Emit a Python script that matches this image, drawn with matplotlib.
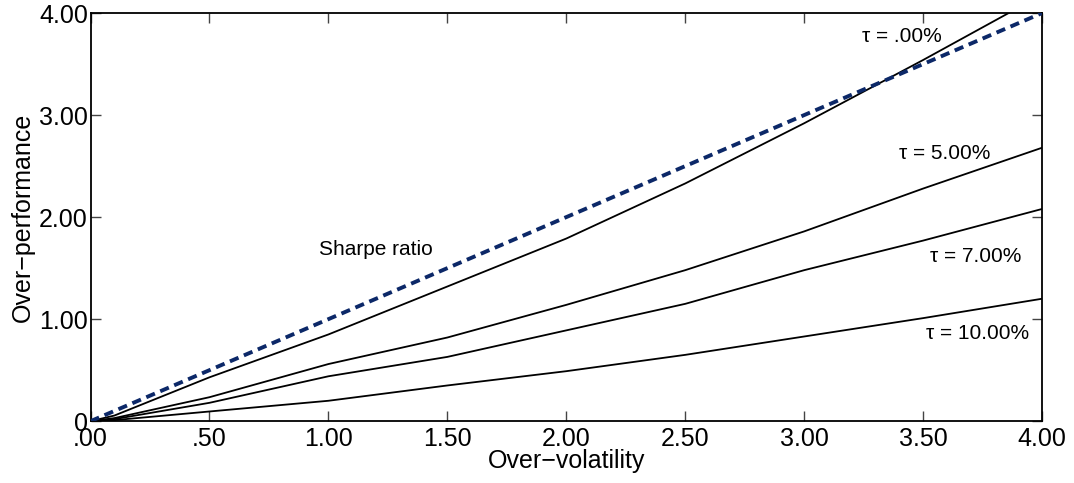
import matplotlib

matplotlib.use("Agg")
import matplotlib.pyplot as plt
from matplotlib.ticker import FixedLocator, FixedFormatter

# over-volatility sample points
vol = [0.0, 0.1, 0.5, 1.0, 1.5, 2.0, 2.5, 3.0, 3.5, 4.0]

# over-performance for each tracking-error level
tau_00 = [0.0, 0.055, 0.43, 0.85, 1.32, 1.79, 2.33, 2.92, 3.54, 4.18]
tau_05 = [0.0, 0.03, 0.235, 0.56, 0.82, 1.14, 1.48, 1.86, 2.28, 2.68]
tau_07 = [0.0, 0.02, 0.18, 0.44, 0.63, 0.89, 1.15, 1.48, 1.77, 2.08]
tau_10 = [0.0, 0.01, 0.095, 0.20, 0.35, 0.49, 0.65, 0.83, 1.01, 1.20]
sharpe = [0.0, 4.0]
sharpe_x = [0.0, 4.0]

curves = [
    (tau_00, "\u03c4 = .00%", 3.41, 3.77),
    (tau_05, "\u03c4 = 5.00%", 3.59, 2.62),
    (tau_07, "\u03c4 = 7.00%", 3.72, 1.61),
    (tau_10, "\u03c4 = 10.00%", 3.73, 0.86),
]

x_ticks = [0, 0.5, 1.0, 1.5, 2.0, 2.5, 3.0, 3.5, 4.0]
x_labels = [".00", ".50", "1.00", "1.50", "2.00", "2.50", "3.00", "3.50", "4.00"]
y_ticks = [0, 1, 2, 3, 4]
y_labels = ["0", "1.00", "2.00", "3.00", "4.00"]

NAVY = "#0c2868"

plt.rcParams["font.family"] = ["Liberation Sans", "DejaVu Sans"]

fig = plt.figure(figsize=(10.74, 4.83), dpi=100)
ax = fig.add_axes([0.0843, 0.128, 0.886, 0.845])

ax.plot(sharpe_x, sharpe, color=NAVY, linewidth=2.8, dashes=(2.4, 1.5),
        dash_capstyle="butt", zorder=3)
for ys, label, tx, ty in curves:
    ax.plot(vol, ys, color="black", linewidth=1.3, zorder=2)
    ax.text(tx, ty, label, fontsize=15, ha="center", va="center")

ax.text(1.2, 1.68, "Sharpe ratio", fontsize=15, ha="center", va="center")

ax.set_xlim(0, 4)
ax.set_ylim(0, 4)
ax.xaxis.set_major_locator(FixedLocator(x_ticks))
ax.xaxis.set_major_formatter(FixedFormatter(x_labels))
ax.yaxis.set_major_locator(FixedLocator(y_ticks))
ax.yaxis.set_major_formatter(FixedFormatter(y_labels))
ax.tick_params(direction="in", length=7, width=1, color="#444444",
               labelsize=18, top=True, right=True)
ax.tick_params(axis="x", pad=4)
ax.tick_params(axis="y", pad=2)
for spine in ax.spines.values():
    spine.set_linewidth(1.3)

ax.set_xlabel("Over\u2212volatility", fontsize=18, labelpad=-1)
ax.set_ylabel("Over\u2212performance", fontsize=18, labelpad=3)

fig.savefig("out.png", dpi=100)
